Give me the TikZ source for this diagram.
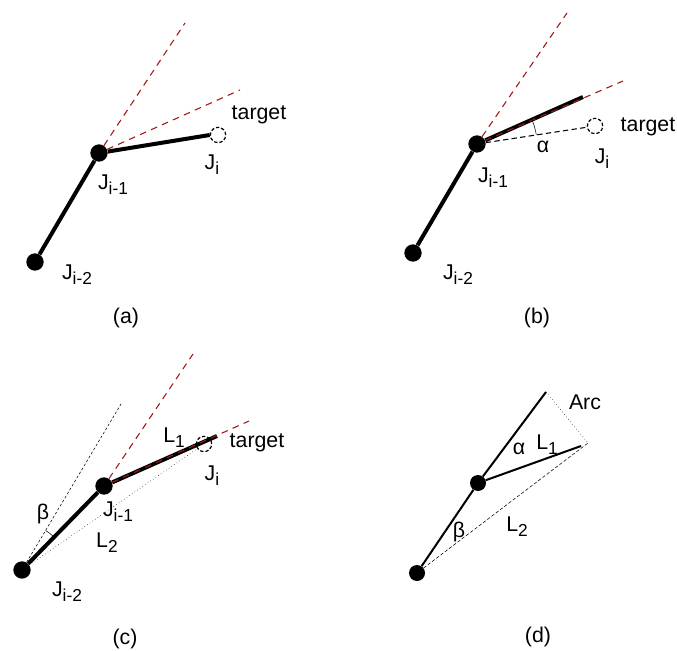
\documentclass[tikz,border=0pt]{standalone}
\usepackage{fontspec}
\setmainfont{Liberation Sans}
\usepackage{tikz}
\usetikzlibrary{calc}
\definecolor{limitRed}{HTML}{A31515}
\newcommand{\jsub}[1]{\raisebox{-0.45ex}{\fontsize{13}{15}\selectfont #1}}

\begin{document}
\begin{tikzpicture}[x=0.75pt, y=0.75pt,
		joint/.style={circle, fill=black, inner sep=0pt, minimum size=13pt},
		ring/.style={circle, draw, line width=0.9pt, dash pattern=on 2.5pt off 1.5pt, inner sep=0pt, minimum size=11.5pt},
		lbl/.style={inner sep=0pt, font=\fontsize{16}{19}\selectfont},
		limb/.style={line width=3pt},
		limit/.style={limitRed, line width=0.8pt, dash pattern=on 5pt off 4pt}]
	\useasboundingbox (0,0) rectangle (677,650);

	\begin{scope}
		% Panel (a): chain before the step
		\node[joint] (jA2) at (35,388) {};
		\node[joint] (jA1) at (99,497) {};
		\node[ring] (tgtA) at (218,515) {};
		\coordinate (limA1) at (185,627);
		\coordinate (limA2) at (240,560);

		\draw[limb] (jA2) -- (jA1) -- (tgtA.west);
		\draw[limit] (jA1) -- (limA1);
		\draw[limit] (jA1) -- (limA2);

		\node[lbl] (tgtLblA) at (259,535) {target};
		\node[lbl] (jiLblA) at (212,485) {J\jsub{i}};
		\node[lbl] (ji1LblA) at (113,465) {J\jsub{i-1}};
		\node[lbl] (ji2LblA) at (77,375) {J\jsub{i-2}};
		\node[lbl] (capA) at (126,332) {(a)};
	\end{scope}

	\begin{scope}
		% Panel (b): link clipped to the limit
		\node[joint] (jB2) at (413,397) {};
		\node[joint] (jB1) at (477,506) {};
		\node[ring] (tgtB) at (595,524) {};
		\coordinate (endB) at (583,553);
		\coordinate (limB1) at (567,637);
		\coordinate (limB2) at (623,569);

		\draw[limb] (jB2) -- (jB1) -- (endB);
		\draw[limit] (jB1) -- (limB1);
		\draw[limit] (jB1) -- (limB2);
		\draw[line width=0.8pt, dash pattern=on 4pt off 2.5pt] (jB1) -- (tgtB);
		\draw[thin] ($(jB1.center)+(9:60)$) arc[start angle=9, end angle=24, radius=45pt];

		\node[lbl] (alphaLblB) at (543,503) {α};
		\node[lbl] (tgtLblB) at (648,523) {target};
		\node[lbl] (jiLblB) at (602,491) {J\jsub{i}};
		\node[lbl] (ji1LblB) at (493,472) {J\jsub{i-1}};
		\node[lbl] (ji2LblB) at (458,375) {J\jsub{i-2}};
		\node[lbl] (capB) at (537,332) {(b)};
	\end{scope}

	\begin{scope}
		% Panel (c): parent joint turns by beta
		\node[joint] (jC2) at (22,80) {};
		\node[joint] (jC1) at (104,164) {};
		\node[ring] (tgtC) at (204,206) {};
		\coordinate (endC) at (217,214);
		\coordinate (limC1) at (193,296);
		\coordinate (limC2) at (249,229);
		\coordinate (rotC) at (121,246);

		\draw[limb] (jC2) -- (jC1) -- (endC);
		\draw[limit] (jC1) -- (limC1);
		\draw[limit] (jC1) -- (limC2);
		\draw[thin, dash pattern=on 2pt off 1.5pt] (jC2) -- (rotC);
		\draw[thin, dotted] (jC2) -- (tgtC);
		\draw[thin] ($(jC2.center)+(46:46)$) arc[start angle=46, end angle=59, radius=34.5pt];

		\node[lbl] (l1LblC) at (174,212) {L\jsub{1}};
		\node[lbl] (tgtLblC) at (257,207) {target};
		\node[lbl] (jiLblC) at (212,174) {J\jsub{i}};
		\node[lbl] (ji1LblC) at (118,138) {J\jsub{i-1}};
		\node[lbl] (betaLblC) at (43,136) {β};
		\node[lbl] (l2LblC) at (107,107) {L\jsub{2}};
		\node[lbl] (ji2LblC) at (67,58) {J\jsub{i-2}};
		\node[lbl] (capC) at (125,11) {(c)};
	\end{scope}

	\begin{scope}
		% Panel (d): the triangle
		\node[joint, minimum size=12pt] (jD2) at (417,77) {};
		\node[joint, minimum size=12pt] (jD1) at (478,167) {};
		\coordinate (tipD) at (546,258);
		\coordinate (endD) at (581,204);
		\coordinate (arcD) at (588,207);

		\draw[line width=1.5pt] (jD2) -- (jD1) -- (tipD);
		\draw[line width=1.5pt] (jD1) -- (endD);
		\draw[thin, dotted] (tipD) -- (arcD);
		\draw[thin, dash pattern=on 2.5pt off 1.5pt] (jD2) -- (arcD);

		\node[lbl] (arcLblD) at (585,248) {Arc};
		\node[lbl] (alphaLblD) at (519,201) {α};
		\node[lbl] (l1LblD) at (547,205) {L\jsub{1}};
		\node[lbl] (betaLblD) at (459,118) {β};
		\node[lbl] (l2LblD) at (517,123) {L\jsub{2}};
		\node[lbl] (capD) at (538,13) {(d)};
	\end{scope}
\end{tikzpicture}
\end{document}
